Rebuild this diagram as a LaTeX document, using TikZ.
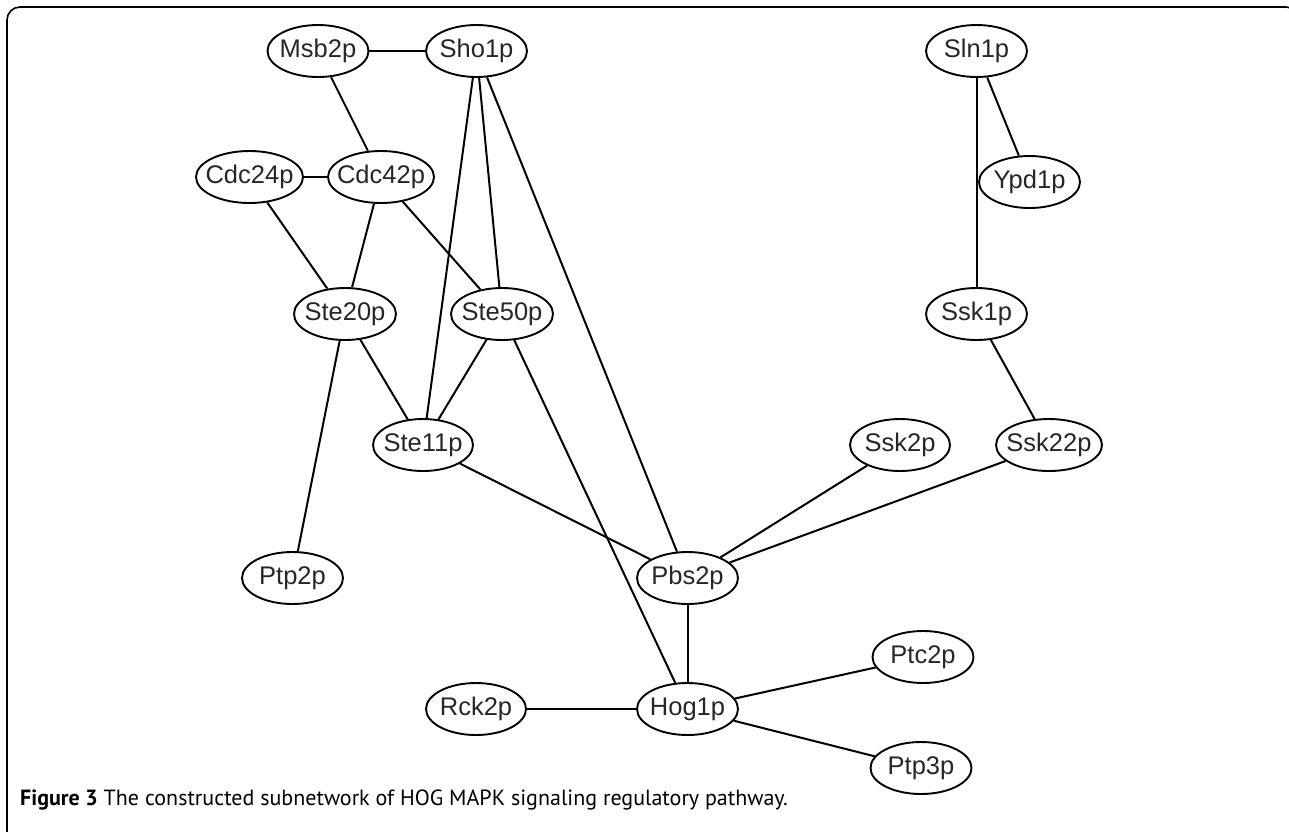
\documentclass[tikz,border=0pt]{standalone}
\usepackage{fontspec}
\setmainfont{Liberation Sans}
\newfontfamily\capfont{PT Sans}
\usetikzlibrary{shapes.geometric}
\newcommand\pn[1]{\makebox[0pt][c]{#1}}
\begin{document}
\begin{tikzpicture}[x=1pt,y=-1pt,
  prot/.style={ellipse, draw, line width=1.9pt, minimum width=101pt, minimum height=52pt, inner sep=0pt, font=\fontsize{25.5}{25.5}\selectfont, text=black!85},
  link/.style={line width=2pt},
  frame/.style={line width=1.6pt, rounded corners=13pt}]
\useasboundingbox (0,0) rectangle (1289,831);
\draw[frame] (7,845) -- (7,7) -- (1299,7) -- (1299,845);

\node[prot] (msb) at (318,51) {\pn{Msb2p}};
\node[prot] (sho) at (476.5,51) {\pn{Sho1p}};
\node[prot, minimum width=107pt] (cdc24) at (249.5,177) {\pn{Cdc24p}};
\node[prot, minimum width=106pt] (cdc42) at (381,177) {\pn{Cdc42p}};
\node[prot, minimum width=102pt] (ste20) at (345,314) {\pn{Ste20p}};
\node[prot, minimum width=102pt] (ste50) at (502,314) {\pn{Ste50p}};
\node[prot, minimum width=100pt] (ste11) at (423,445) {\pn{Ste11p}};
\node[prot] (ptp2) at (292.5,578) {\pn{Ptp2p}};
\node[prot] (pbs2) at (687.5,578) {\pn{Pbs2p}};
\node[prot, minimum width=100pt] (rck2) at (476,709) {\pn{Rck2p}};
\node[prot] (hog1) at (687.5,709) {\pn{Hog1p}};
\node[prot] (ptc2) at (923,657) {\pn{Ptc2p}};
\node[prot] (ptp3) at (921,768) {\pn{Ptp3p}};
\node[prot, minimum width=100pt] (ssk2) at (900,445) {\pn{Ssk2p}};
\node[prot, minimum width=106pt] (ssk22) at (1049,445) {\pn{Ssk22p}};
\node[prot] (ssk1) at (976.5,314) {\pn{Ssk1p}};
\node[prot] (sln1) at (976.5,51) {\pn{Sln1p}};
\node[prot] (ypd1) at (1029.5,182) {\pn{Ypd1p}};

\draw[link] (msb) -- (sho);
\draw[link] (msb) -- (cdc42);
\draw[link] (cdc24) -- (cdc42);
\draw[link] (cdc24) -- (ste20);
\draw[link] (cdc42) -- (ste20);
\draw[link] (cdc42) -- (ste50);
\draw[link] (sho) -- (ste11);
\draw[link] (sho) -- (ste50);
\draw[link] (sho) -- (pbs2);
\draw[link] (ste20) -- (ste11);
\draw[link] (ste20) -- (ptp2);
\draw[link] (ste50) -- (ste11);
\draw[link] (ste50) -- (hog1);
\draw[link] (ste11) -- (pbs2);
\draw[link] (sln1) -- (ssk1);
\draw[link] (sln1) -- (ypd1);
\draw[link] (ssk1) -- (ssk22);
\draw[link] (ssk2) -- (pbs2);
\draw[link] (ssk22) -- (pbs2);
\draw[link] (pbs2) -- (hog1);
\draw[link] (rck2) -- (hog1);
\draw[link] (hog1) -- (ptc2);
\draw[link] (hog1) -- (ptp3);

\node[anchor=base west, inner sep=0pt, font=\capfont\fontsize{22}{22}\selectfont] (cap) at (20,805)
  {\textbf{Figure 3} The constructed subnetwork of HOG MAPK signaling regulatory pathway.};
\end{tikzpicture}
\end{document}
